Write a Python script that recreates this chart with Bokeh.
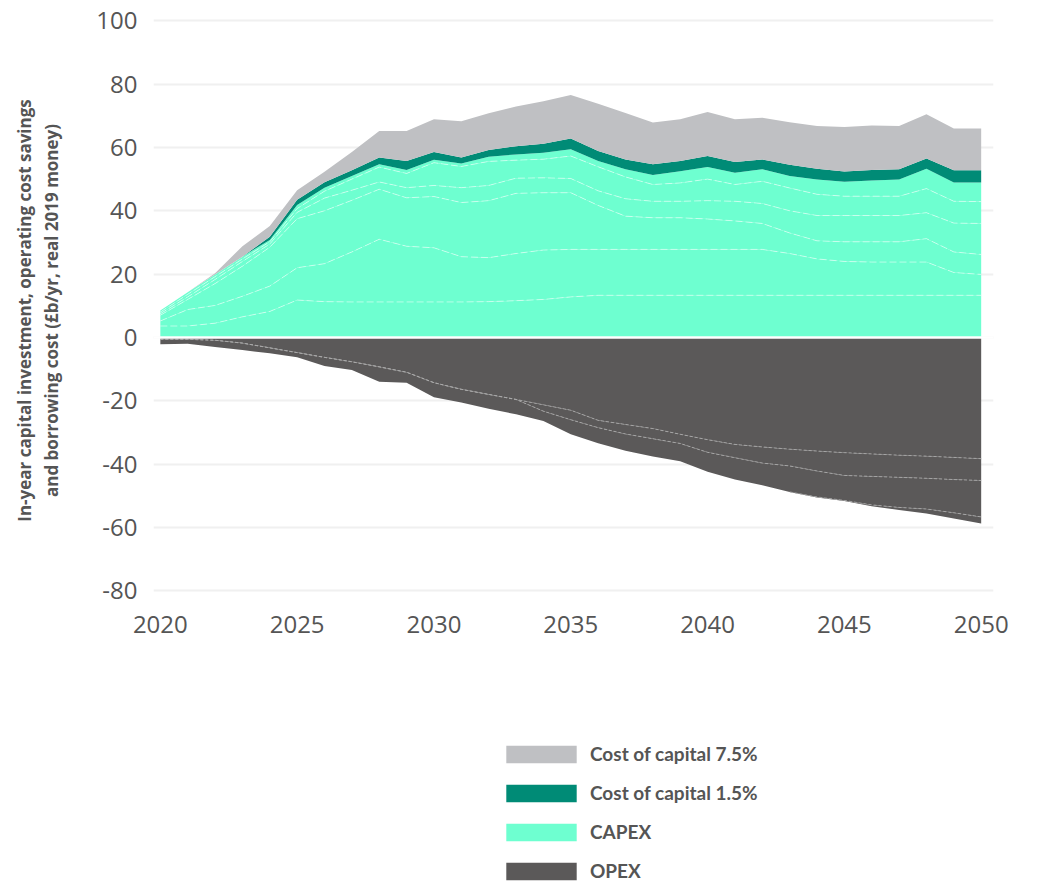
from bokeh.plotting import figure
from bokeh.layouts import column
from bokeh.models import ColumnDataSource, Legend, LegendItem, FixedTicker, Range1d, Span
from bokeh.embed import file_html
from bokeh.resources import INLINE
import numpy as np

years = list(range(2020, 2051))

# CAPEX sub-components (stacked, £b/yr)
capex_1 = [3.6, 3.6, 4.5, 6.5, 8.2, 11.8, 11.3, 11.2, 11.2, 11.2, 11.2, 11.2, 11.3, 11.6, 12.0, 12.8,
           13.3, 13.3, 13.3, 13.3, 13.3, 13.3, 13.3, 13.3, 13.3, 13.3, 13.3, 13.3, 13.3, 13.3, 13.3]
capex_2 = [1.6, 5.2, 5.6, 6.5, 8.0, 10.2, 12.0, 15.8, 19.8, 17.6, 17.1, 14.3, 13.9, 14.9, 15.6, 15.0,
           14.5, 14.5, 14.5, 14.5, 14.5, 14.5, 14.5, 13.2, 11.5, 10.7, 10.5, 10.5, 10.5, 7.2, 6.6]
capex_3 = [1.8, 3.2, 6.9, 9.5, 12.3, 15.5, 16.7, 16.3, 15.8, 15.3, 16.2, 17.1, 18.0, 19.0, 18.1, 17.9,
           13.9, 10.5, 10.0, 10.0, 9.6, 9.0, 8.2, 6.5, 5.7, 6.2, 6.4, 6.4, 7.4, 6.5, 6.3]
capex_4 = [0.5, 0.8, 1.3, 1.5, 1.0, 2.0, 4.0, 3.2, 2.3, 3.2, 3.5, 4.7, 4.8, 4.8, 4.7, 4.5,
           4.6, 5.5, 5.2, 5.2, 5.8, 6.2, 6.3, 7.0, 8.0, 8.3, 8.3, 8.3, 8.2, 9.1, 9.8]
capex_5 = [0.5, 0.8, 0.9, 0.8, 0.7, 1.2, 2.2, 3.5, 4.7, 4.5, 7.2, 6.7, 7.6, 5.7, 5.9, 7.1,
           7.6, 6.9, 5.3, 5.8, 6.8, 5.3, 7.0, 7.2, 6.7, 6.1, 6.1, 6.1, 7.6, 6.9, 6.9]
capex_6 = [0.5, 0.7, 0.7, 0.7, 0.6, 1.1, 1.1, 1.0, 0.9, 1.1, 0.9, 0.9, 1.5, 1.8, 2.0, 2.1,
           1.8, 2.4, 3.0, 3.7, 3.8, 3.7, 3.8, 3.8, 4.7, 4.6, 5.0, 5.3, 6.3, 5.9, 6.0]

# Borrowing costs
coc_15 = [0.0, 0.0, 0.0, 0.0, 1.0, 1.7, 1.7, 1.8, 2.1, 2.8, 2.5, 1.9, 2.1, 2.6, 2.9, 3.4,
          3.2, 3.1, 3.4, 3.2, 3.5, 3.4, 3.1, 3.5, 3.4, 3.2, 3.3, 3.2, 3.2, 3.9, 3.9]
coc_75 = [0.0, 0.0, 0.4, 3.3, 3.4, 3.0, 3.3, 5.8, 8.4, 9.5, 10.3, 11.5, 11.6, 12.5, 13.4, 13.8,
          14.9, 14.7, 13.2, 13.2, 13.9, 13.5, 13.2, 13.5, 13.5, 14.1, 14.0, 13.7, 14.0, 13.2, 13.2]

# OPEX sub-components (savings, negative)
opex_1 = [-0.6, -0.6, -0.9, -1.8, -3.3, -4.8, -6.3, -7.7, -9.3, -11.0, -14.3, -16.4, -18.0, -19.6, -21.3, -23.0,
          -26.2, -27.5, -28.8, -30.6, -32.3, -33.8, -34.6, -35.3, -35.9, -36.4, -36.8, -37.2, -37.5, -37.9, -38.3]
opex_2 = [0.0, 0.0, 0.0, 0.0, 0.0, 0.0, 0.0, 0.0, 0.0, 0.0, 0.0, 0.0, 0.0, 0.0, -2.0, -3.0,
          -2.3, -3.0, -3.2, -2.9, -4.0, -4.2, -5.1, -5.3, -6.3, -7.2, -7.1, -7.0, -7.0, -7.0, -6.9]
opex_3 = [-1.6, -1.4, -2.1, -2.2, -1.7, -1.5, -2.7, -2.6, -4.7, -3.3, -4.6, -4.2, -4.5, -4.7, -3.1, -4.6,
          -4.9, -5.3, -5.6, -5.6, -6.1, -6.9, -7.0, -8.2, -8.2, -7.9, -9.0, -9.5, -9.7, -10.5, -11.5]
opex_4 = [0.0, 0.0, 0.0, 0.0, 0.0, 0.0, 0.0, 0.0, 0.0, 0.0, 0.0, 0.0, 0.0, 0.0, 0.0, 0.0,
          0.0, 0.0, 0.0, 0.0, 0.0, 0.0, 0.0, 0.0, -0.2, -0.2, -0.4, -0.8, -1.4, -1.8, -2.1]

y_ticks = [-80, -60, -40, -20, 0, 20, 40, 60, 80, 100]
x_ticks = [2020, 2025, 2030, 2035, 2040, 2045, 2050]
legend_labels = ["Cost of capital 7.5%", "Cost of capital 1.5%", "CAPEX", "OPEX"]

C_CAPEX = "#6effd0"
C_TEAL = "#008b76"
C_GREY = "#bfc0c3"
C_OPEX = "#5b5959"
TXT = "#555555"

src = ColumnDataSource(dict(year=years, c1=capex_1, c2=capex_2, c3=capex_3, c4=capex_4,
                            c5=capex_5, c6=capex_6, k15=coc_15, k75=coc_75,
                            o1=opex_1, o2=opex_2, o3=opex_3, o4=opex_4))

p = figure(width=1039, height=660, output_backend="svg", toolbar_location=None,
           x_range=Range1d(2019.75, 2050.45), y_range=Range1d(-85, 102),
           min_border_left=153, min_border_right=46, min_border_top=14, min_border_bottom=54)
p.outline_line_color = None
p.background_fill_color = "white"
p.xgrid.grid_line_color = None
p.ygrid.grid_line_color = "#f0f0f0"
p.ygrid.grid_line_width = 2

pos = p.varea_stack(stackers=["c1", "c2", "c3", "c4", "c5", "c6", "k15", "k75"], x="year",
                    color=[C_CAPEX] * 6 + [C_TEAL, C_GREY], source=src)
neg = p.varea_stack(stackers=["o1", "o2", "o3", "o4"], x="year", color=[C_OPEX] * 4, source=src)

# thin boundaries between CAPEX sub-components
p.vline_stack(stackers=["c1", "c2", "c3", "c4", "c5"], x="year", source=src,
              color="white", alpha=0.5, line_width=1, line_dash="7 3")

# dashed boundaries between OPEX sub-components
o1 = np.array(opex_1); o2 = np.array(opex_2); o3 = np.array(opex_3); o4 = np.array(opex_4)
lu = o1
ll = o1 + o2
lt = o1 + o2 + o3
show_t = (o4 < 0) | (np.roll(o4, -1) < 0)
lt_masked = np.where(show_t, lt, np.nan)
for yy in (lu, ll, lt_masked):
    p.line(years, yy, color="#a9a9a9", line_width=1, line_dash="3 2", alpha=0.9)

p.add_layout(Span(location=0, dimension="width", line_color="white", line_width=2.5))

# axes
p.yaxis.ticker = FixedTicker(ticks=y_ticks)
p.xaxis.ticker = FixedTicker(ticks=x_ticks)
p.yaxis.major_label_overrides = {t: str(t) for t in y_ticks}
for ax in (p.xaxis[0], p.yaxis[0]):
    ax.axis_line_color = None
    ax.major_tick_line_color = None
    ax.minor_tick_line_color = None
    ax.major_label_text_font = "Open Sans"
    ax.major_label_text_font_size = "24px"
    ax.major_label_text_color = TXT
p.yaxis.major_label_standoff = 10
p.xaxis.major_label_standoff = 3
p.yaxis.axis_label = "In-year capital investment, operating cost savings\nand borrowing cost (£b/yr, real 2019 money)"
p.yaxis.axis_label_text_font = "Open Sans"
p.yaxis.axis_label_text_font_style = "bold"
p.yaxis.axis_label_text_font_size = "17px"
p.yaxis.axis_label_text_color = TXT
p.yaxis.axis_label_standoff = 30

# legend panel underneath
lg = figure(width=1039, height=221, output_backend="svg", toolbar_location=None,
            x_range=Range1d(0, 1), y_range=Range1d(0, 1),
            x_axis_location=None, y_axis_location=None,
            min_border_left=0, min_border_right=0, min_border_top=0, min_border_bottom=0)
lg.outline_line_color = None
lg.xgrid.grid_line_color = None
lg.ygrid.grid_line_color = None
legend_colors = [C_GREY, C_TEAL, C_CAPEX, C_OPEX]
items = []
for lab, col in zip(legend_labels, legend_colors):
    r = lg.varea(x=[0, 1], y1=[0, 0], y2=[0, 0], fill_color=col)
    items.append(LegendItem(label=lab, renderers=[r]))

legend = Legend(items=items, location=(344, -1), orientation="vertical",
                glyph_width=88, glyph_height=22, spacing=16, label_standoff=5,
                padding=0, margin=0, border_line_color=None, background_fill_alpha=0,
                label_text_font="Lato", label_text_font_style="bold",
                label_text_font_size="19px", label_text_color=TXT, label_height=22)
lg.add_layout(legend, "center")

layout = column(p, lg, spacing=0)
open("out.html", "w").write(file_html(layout, INLINE))
